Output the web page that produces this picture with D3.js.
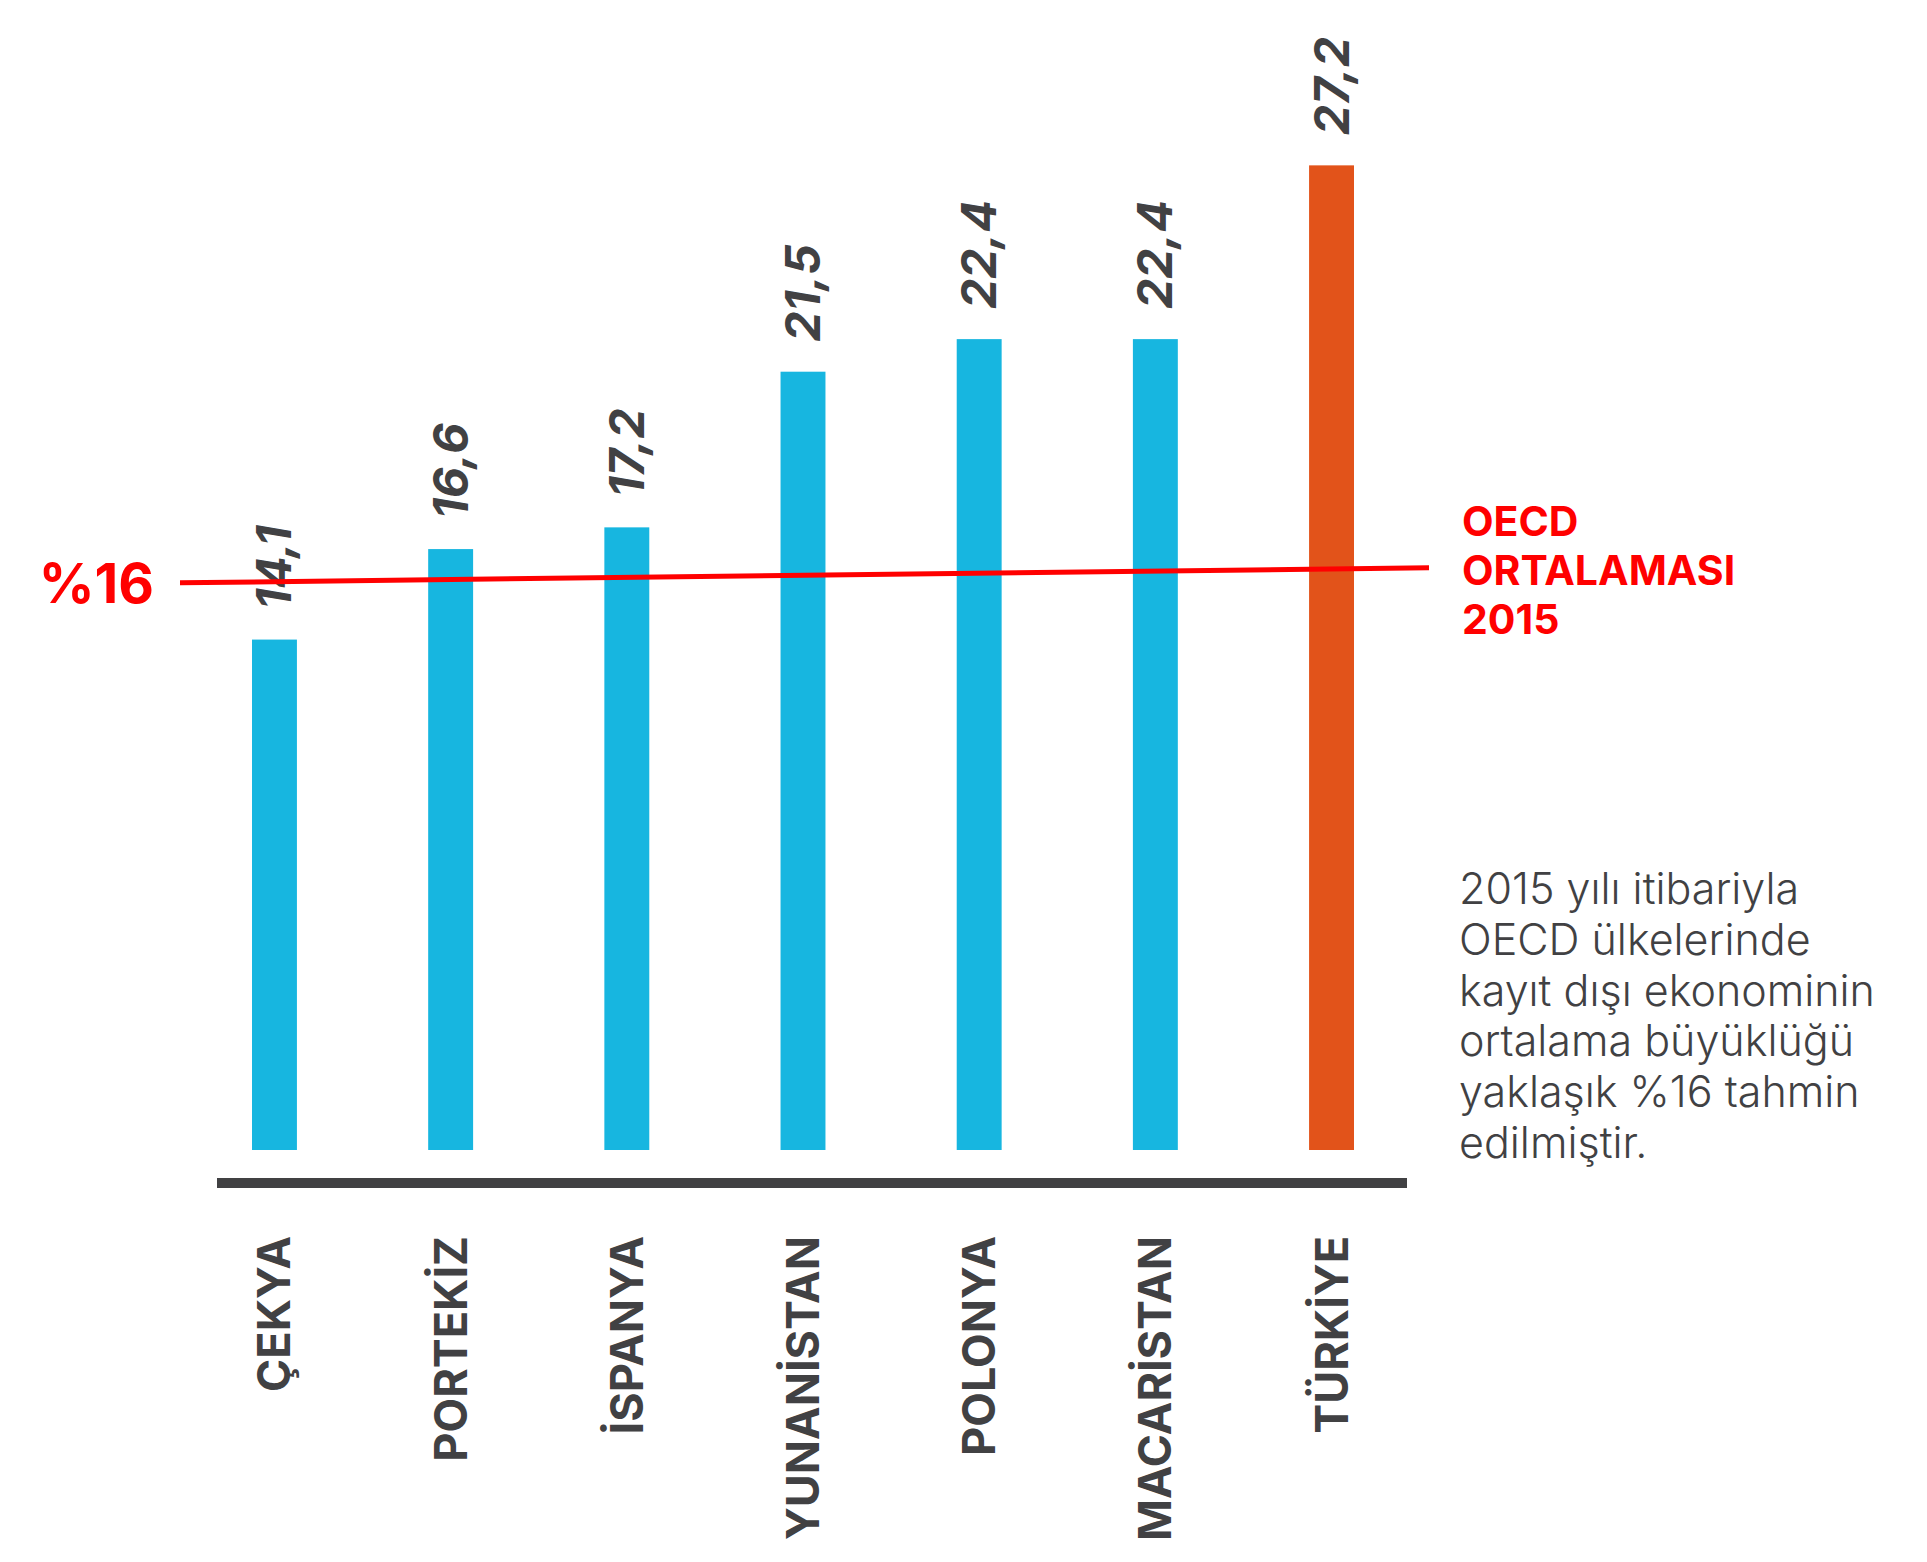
<!DOCTYPE html>
<html>
<head>
<meta charset="utf-8">
<script src="https://cdn.jsdelivr.net/npm/d3@7"></script>
<style>
  body { margin: 0; background: #fff; }
  svg { display: block; font-family: Inter, "Noto Sans", sans-serif; }
</style>
</head>
<body>
<svg></svg>
<script>
// data
var countries = ["ÇEKYA", "PORTEKİZ", "İSPANYA", "YUNANİSTAN", "POLONYA", "MACARİSTAN", "TÜRKİYE"];
var values = [14.1, 16.6, 17.2, 21.5, 22.4, 22.4, 27.2];
var highlight = "TÜRKİYE";
var oecdAvg = 16;
var oecdLabel = ["OECD", "ORTALAMASI", "2015"];
var noteLines = ["2015 yılı itibariyla", "OECD ülkelerinde", "kayıt dışı ekonominin",
                 "ortalama büyüklüğü", "yaklaşık %16 tahmin", "edilmiştir."];

var width = 1927, height = 1562;
var dark = "#414143", blue = "#17b6e0", orange = "#e2531a", red = "#ff0000";

var svg = d3.select("svg").attr("width", width).attr("height", height);

// bars: 45px wide, ~176px apart
var x = d3.scaleBand()
    .domain(countries)
    .range([252, 1354])
    .paddingInner(0.745)
    .paddingOuter(0);

var y = d3.scaleLinear()
    .domain([0, 30])
    .range([1150, 1150 - 36.2 * 30]);

var fmt = function(v){ return String(v).replace(".", ","); };

// bars
svg.selectAll("rect.bar")
    .data(values)
    .enter()
    .append("rect")
    .attr("class", "bar")
    .attr("x", function(d, i){ return x(countries[i]); })
    .attr("y", function(d){ return y(d); })
    .attr("width", x.bandwidth())
    .attr("height", function(d){ return y(0) - y(d); })
    .attr("fill", function(d, i){ return countries[i] === highlight ? orange : blue; });

// value labels, rotated
svg.selectAll("text.val")
    .data(values)
    .enter()
    .append("text")
    .attr("class", "val")
    .attr("transform", function(d, i){
        var cx = x(countries[i]) + x.bandwidth() / 2;
        return "translate(" + (cx + 17) + "," + (y(d) - 30) + ") rotate(-90)";
    })
    .attr("font-size", 48)
    .attr("font-weight", 700)
    .attr("font-style", "italic")
    .attr("fill", dark)
    .text(fmt);

// x axis with rotated country names
var axisY = 1183;
var axis = svg.append("g")
    .attr("transform", "translate(0," + axisY + ")")
    .call(d3.axisBottom(x).tickSize(0).tickSizeOuter(0));

axis.select(".domain").remove();

// thick baseline, a bit wider than the bars
svg.append("line")
    .attr("x1", x.range()[0] - 35)
    .attr("x2", x.range()[1] + 53)
    .attr("y1", axisY).attr("y2", axisY)
    .attr("stroke", dark)
    .attr("stroke-width", 10);

axis.selectAll(".tick text")
    .attr("transform", "rotate(-90)")
    .attr("text-anchor", "end")
    .attr("x", -53)
    .attr("y", 16)
    .attr("dy", 0)
    .attr("fill", dark)
    .attr("font-size", 45)
    .attr("font-weight", 700)
    .attr("font-family", "Inter, 'Noto Sans', sans-serif");

// OECD average line (slightly tilted as in the original)
var x0 = 180, x1 = 1429;
var yl0 = y(oecdAvg) + 12, yl1 = y(oecdAvg) - 3;

svg.append("line")
    .attr("x1", x0).attr("y1", yl0)
    .attr("x2", x1).attr("y2", yl1)
    .attr("stroke", red)
    .attr("stroke-width", 5);

svg.append("text")
    .attr("x", x0 - 26)
    .attr("y", yl0 + 20)
    .attr("text-anchor", "end")
    .attr("font-size", 55)
    .attr("font-weight", 700)
    .attr("fill", red)
    .text("%" + oecdAvg);

svg.append("g")
    .selectAll("text")
    .data(oecdLabel)
    .enter()
    .append("text")
    .attr("x", x1 + 33)
    .attr("y", function(d, i){ return yl1 - 32 + i * 49; })
    .attr("font-size", 41)
    .attr("font-weight", 700)
    .attr("fill", red)
    .text(function(d){ return d; });

// note
svg.append("g")
    .selectAll("text")
    .data(noteLines)
    .enter()
    .append("text")
    .attr("x", 1459)
    .attr("y", function(d, i){ return 904 + i * 50.8; })
    .attr("font-size", 43)
    .attr("font-weight", 300)
    .attr("fill", dark)
    .text(function(d){ return d; });
</script>
</body>
</html>
